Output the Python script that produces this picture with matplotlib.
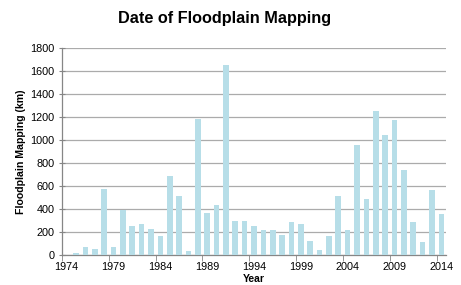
import matplotlib
matplotlib.use('Agg')
import matplotlib.pyplot as plt
import numpy as np

# Floodplain mapping length (km) by year
years = list(range(1974, 2015))
mapped_km = [0, 20, 73, 55, 578, 73, 390, 253, 267, 227,
             163, 683, 512, 38, 1180, 369, 436, 1648, 299, 299,
             253, 221, 215, 174, 291, 267, 119, 47, 169, 512,
             221, 953, 488, 1250, 1041, 1174, 738, 291, 110, 561,
             360]
yticks = list(range(0, 1801, 200))
label_every = 5

plt.rcParams['font.family'] = ['Liberation Sans', 'DejaVu Sans']

fig = plt.figure(figsize=(4.61, 2.85), dpi=100)
ax = fig.add_axes([62 / 461, 30 / 285, 384 / 461, 207 / 285])

x = np.arange(len(years))
ax.bar(x, mapped_km, width=0.6, color='#B7DEE8', zorder=3)

ax.set_xlim(-0.5, len(years) - 0.5)
ax.set_ylim(0, 1800)
ax.set_yticks(yticks)
ax.yaxis.grid(True, color='#ABABAB', linewidth=0.9, zorder=0)

# category labels every 5 years, tick marks between categories
ax.set_xticks(x[::label_every])
ax.set_xticklabels([str(y) for y in years[::label_every]])
ax.set_xticks(x[::label_every] - 0.5, minor=True)
ax.tick_params(axis='x', which='major', length=0, labelsize=7.8, pad=5)
ax.tick_params(axis='x', which='minor', length=4, direction='out', color='#868686')
ax.tick_params(axis='y', length=5, direction='inout', color='#868686', labelsize=7.8, pad=3)

for side in ['top', 'right']:
    ax.spines[side].set_visible(False)
for side in ['left', 'bottom']:
    ax.spines[side].set_color('#868686')
    ax.spines[side].set_linewidth(0.9)

ax.set_xlabel('Year', fontsize=7.5, fontweight='bold', labelpad=1.5)
ax.set_ylabel('Floodplain Mapping (km)', fontsize=7.6, fontweight='bold', labelpad=3)
fig.text(225 / 461, 1 - 18 / 285, 'Date of Floodplain Mapping', fontsize=11.7,
         fontweight='bold', ha='center', va='center')

fig.savefig('out.png', dpi=100)
